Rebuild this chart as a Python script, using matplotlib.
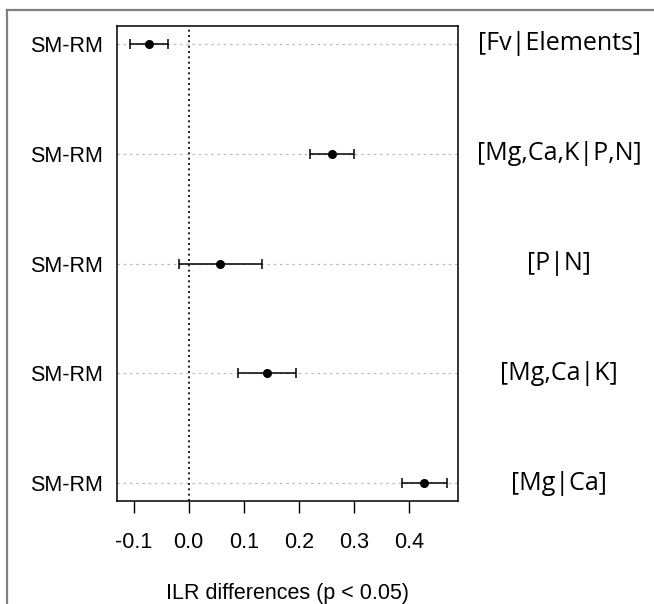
import numpy as np
import matplotlib
matplotlib.use("Agg")
import matplotlib.pyplot as plt
from matplotlib.transforms import blended_transform_factory
from matplotlib.lines import Line2D

# rows listed top to bottom
balances = ['[Fv|Elements]', '[Mg,Ca,K|P,N]', '[P|N]', '[Mg,Ca|K]', '[Mg|Ca]']
contrast = ['SM-RM', 'SM-RM', 'SM-RM', 'SM-RM', 'SM-RM']
estimate = [-0.072, 0.260, 0.056, 0.142, 0.427]
lower = [-0.107, 0.221, -0.018, 0.090, 0.387]
upper = [-0.037, 0.300, 0.133, 0.195, 0.469]
xticks = [-0.1, 0.0, 0.1, 0.2, 0.3, 0.4]

plt.rcParams['font.family'] = ['Liberation Sans', 'DejaVu Sans']

fig = plt.figure(figsize=(6.54, 6.04), dpi=100)
ax = fig.add_axes([117 / 654, 1 - 501 / 604, 341 / 654, 475 / 604])

n = len(balances)
ypos = np.arange(n, 0, -1)

est = np.array(estimate)
err = np.vstack([est - np.array(lower), np.array(upper) - est])

for y in ypos:
    ax.axhline(y, color='#bbbbbb', linestyle=(0, (2, 3)), linewidth=0.9, zorder=0)
ax.axvline(0, color='black', linestyle=(0, (1.2, 2)), linewidth=1.2, zorder=1)

ax.errorbar(est, ypos, xerr=err, fmt='o', color='black', markersize=5.5,
            ecolor='black', elinewidth=1.1, capsize=3.5, capthick=1.1, zorder=3)

ax.set_xlim(-0.1304, 0.4896)
ax.set_ylim(0.84, n + 0.16)
ax.set_xticks(xticks)
ax.set_xticklabels([f'{t:.1f}' for t in xticks])
ax.set_yticks(ypos)
ax.set_yticklabels(contrast)
ax.tick_params(axis='x', length=8.5, width=1, pad=14, labelsize=15.5)
ax.tick_params(axis='y', length=0, pad=10, labelsize=15.5)
for s in ax.spines.values():
    s.set_linewidth(1.1)

# axis title placed in figure coords so it sits near the bottom edge like the original
fig.text(287.5 / 654, 1 - 593 / 604, 'ILR differences (p < 0.05)', ha='center', va='center',
         fontsize=15.5)

tr = blended_transform_factory(fig.transFigure, ax.transData)
for y, lab in zip(ypos, balances):
    ax.text(559 / 654, y, lab, transform=tr, ha='center', va='center',
            fontsize=18, family=['Open Sans', 'DejaVu Sans'], clip_on=False)

# outer gray frame (top and left edges)
fig.add_artist(Line2D([7 / 654, 7 / 654], [0, 1 - 10 / 604], transform=fig.transFigure,
                      color='#808080', linewidth=1.6))
fig.add_artist(Line2D([7 / 654, 1], [1 - 10 / 604, 1 - 10 / 604], transform=fig.transFigure,
                      color='#808080', linewidth=1.6))

fig.savefig('out.png', dpi=100)
